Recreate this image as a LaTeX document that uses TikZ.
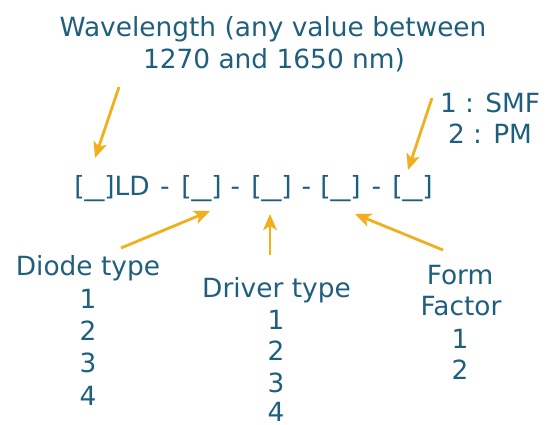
\documentclass[tikz,border=0pt]{standalone}
\usepackage{fontspec}
\setmainfont{DejaVu Sans}
\usetikzlibrary{arrows.meta}
\definecolor{txt}{RGB}{31,95,126}
\definecolor{arr}{RGB}{242,174,28}
\newcommand\slotmark{[\scalebox{1.5}[1]{\_}]}
\begin{document}
\begin{tikzpicture}[x=1pt,y=-1pt,
  lbl/.style={text=txt,font=\fontsize{26.4}{32}\selectfont,inner sep=0pt,anchor=base,align=center},
  pointer/.style={draw=arr,line width=2.8pt,-{Stealth[length=16pt,width=13.5pt,inset=4pt]}}]
\useasboundingbox (0,0) rectangle (546,424);
\node[lbl] (wl1) at (273,36) {Wavelength (any value between};
\node[lbl] (wl2) at (274,68) {1270 and 1650 nm)};
\node[lbl] (smf) at (490,112) {1 : SMF};
\node[lbl] (pm) at (490,143) {2 : PM};
% code line
\node[lbl] (c0) at (112,195) {\slotmark LD};
\node[lbl] (h1) at (165,195) {-};
\node[lbl] (c1) at (201.5,195) {\slotmark};
\node[lbl] (h2) at (235.5,195) {-};
\node[lbl] (c2) at (271.5,195) {\slotmark};
\node[lbl] (h3) at (306.5,195) {-};
\node[lbl] (c3) at (340.5,195) {\slotmark};
\node[lbl] (h4) at (376.5,195) {-};
\node[lbl] (c4) at (412.5,195) {\slotmark};
% lists
\node[lbl] (diode) at (88,275) {Diode type};
\node[lbl] (d1) at (88,308) {1};
\node[lbl] (d2) at (88,340) {2};
\node[lbl] (d3) at (88,372) {3};
\node[lbl] (d4) at (88,405) {4};
\node[lbl] (driver) at (276.5,297) {Driver type};
\node[lbl] (r1) at (276,329) {1};
\node[lbl] (r2) at (276,360) {2};
\node[lbl] (r3) at (276,392) {3};
\node[lbl] (r4) at (276,421) {4};
\node[lbl] (form) at (460,284) {Form};
\node[lbl] (factor) at (461,315) {Factor};
\node[lbl] (f1) at (460,348) {1};
\node[lbl] (f2) at (460,379) {2};
% arrows
\coordinate (a1s) at (119,87);  \coordinate (a1e) at (95,158);
\coordinate (a2s) at (432,98);  \coordinate (a2e) at (408,170);
\coordinate (a3s) at (121,248); \coordinate (a3e) at (210,211);
\coordinate (a4s) at (270,255); \coordinate (a4e) at (270,214);
\coordinate (a5s) at (443,250); \coordinate (a5e) at (355,214);
\draw[pointer] (a1s) -- (a1e);
\draw[pointer] (a2s) -- (a2e);
\draw[pointer] (a3s) -- (a3e);
\draw[pointer] (a4s) -- (a4e);
\draw[pointer] (a5s) -- (a5e);
\end{tikzpicture}
\end{document}
